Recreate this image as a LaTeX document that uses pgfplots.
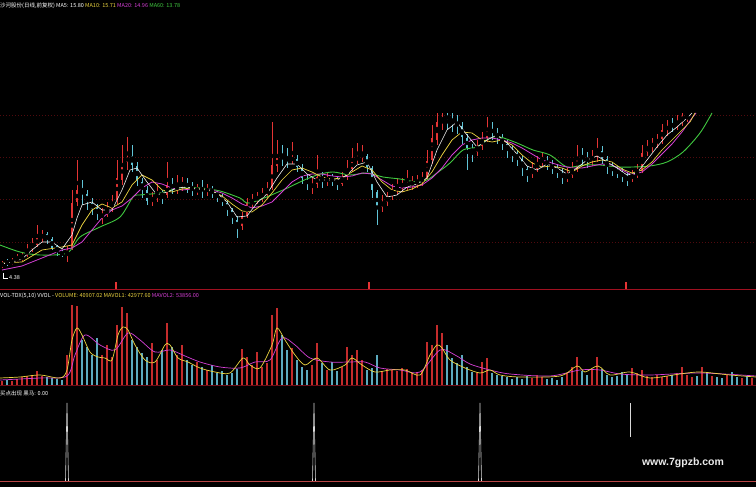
\documentclass[border=0pt]{standalone}
\usepackage{pgfplots}
\pgfplotsset{compat=1.18}
\usepackage{pgfplotstable}
\usepackage{fontspec}
\setmainfont{Liberation Sans}
\newfontfamily\cjk{Noto Sans CJK SC}

\definecolor{upc}{RGB}{228,52,52}
\definecolor{dnc}{RGB}{96,196,214}
\definecolor{vup}{RGB}{196,44,44}
\definecolor{vdn}{RGB}{92,170,190}
\definecolor{ma5}{RGB}{240,240,240}
\definecolor{ma10}{RGB}{236,212,64}
\definecolor{ma20}{RGB}{214,64,214}
\definecolor{ma60}{RGB}{64,200,64}
\definecolor{sep}{RGB}{160,16,32}
\definecolor{gridc}{RGB}{80,10,14}

\newcommand\hdr{\cjk\fontsize{5.5}{6}\selectfont}

% rising days: x = pixel position, o/h/l/c = height above panel floor, v = volume height
\pgfplotstableread{
x o h l c v
2 24 29 22 26 4
12 26 32 25 29 4
17 30 36 28 31 6
22 30 38 29 34 8
27 35 46 33 40 9
32 41 52 38 46 10
37 45 65 43 52 14
42 53 60 48 54 9
67 35 44 28 40 30
72 42 100 40 87 80
77 88 130 84 100 79
102 74 82 66 75 30
107 76 88 73 80 40
112 81 95 78 88 28
117 90 130 86 112 60
122 110 145 105 127 78
127 128 153 120 133 72
152 88 98 84 92 42
157 92 106 88 96 25
167 95 128 92 105 62
177 100 115 96 104 30
182 105 113 99 106 40
197 99 106 95 100 23
207 100 106 94 100 15
242 64 78 60 73 36
247 74 92 72 87 28
252 86 96 82 89 20
257 90 98 86 93 33
262 94 102 88 95 18
267 96 108 92 100 22
272 102 168 100 125 70
277 124 150 118 132 77
292 130 148 126 132 37
312 104 112 96 105 20
317 106 135 102 113 42
327 109 118 104 111 15
342 106 118 104 112 18
347 113 130 110 122 38
352 121 142 118 129 30
357 130 147 126 133 35
362 134 145 128 135 25
382 83 95 78 88 14
387 88 98 84 93 16
392 94 106 90 99 15
397 100 112 96 103 14
402 104 112 98 105 17
407 105 120 100 106 16
412 106 114 100 107 12
417 107 115 102 108 13
422 109 118 104 111 15
427 112 140 110 129 43
432 130 165 126 152 40
437 150 177 145 168 60
442 169 177 160 173 52
477 138 150 134 143 12
482 144 158 140 151 23
487 152 173 148 160 27
532 116 128 112 120 7
537 121 134 118 127 10
542 128 138 124 130 8
567 112 122 108 114 12
572 115 128 112 120 18
577 121 145 118 132 28
592 131 140 124 132 15
597 133 152 128 140 28
632 112 120 108 114 17
637 115 126 112 118 12
642 119 145 117 137 15
647 138 150 134 143 9
652 144 152 138 146 8
657 147 156 142 150 10
662 151 166 146 160 8
667 161 170 154 163 9
677 165 175 160 168 12
682 169 177 164 174 18
687 174 177 168 177 10
}\upbars

% falling days
\pgfplotstableread{
x o h l c v
7 28 31 24 27 5
47 56 58 46 50 8
52 51 53 40 42 7
57 44 45 34 38 6
62 37 40 33 36 5
82 102 110 85 98 45
87 96 100 80 88 38
92 87 92 75 81 30
97 82 86 70 76 47
132 134 145 118 125 45
137 124 128 104 110 38
142 108 112 92 101 32
147 100 104 85 89 28
162 97 100 86 94 35
172 106 112 96 101 38
187 107 112 97 103 25
192 104 108 94 100 20
202 101 110 92 100 18
212 101 104 92 98 20
217 97 100 88 94 12
222 93 96 84 88 14
227 87 90 74 80 10
232 80 82 66 72 12
237 70 74 52 62 16
282 133 145 124 132 50
287 131 142 122 130 35
297 131 135 118 123 25
302 122 126 106 112 18
307 110 116 100 106 15
322 114 118 102 110 22
332 112 116 104 111 23
337 110 114 100 107 14
367 134 136 118 123 15
372 122 124 92 100 17
377 98 100 65 82 30
447 174 177 160 171 40
452 170 177 158 169 27
457 168 175 156 165 22
462 164 168 146 153 30
467 152 156 120 142 18
472 141 146 128 138 13
492 160 168 150 158 12
497 157 162 146 153 10
502 152 156 140 147 9
507 146 150 132 140 8
512 139 144 128 137 6
517 136 140 124 132 8
522 131 134 114 122 6
527 121 124 108 115 9
547 129 134 120 126 6
552 125 130 116 122 7
557 121 126 112 118 5
562 117 122 106 113 8
582 133 142 124 132 14
587 131 138 122 130 10
602 139 144 126 132 16
607 131 134 116 123 10
612 122 128 114 120 8
617 119 124 112 118 9
622 117 122 108 114 13
627 113 118 104 111 10
672 165 172 158 164 10
}\dnbars

\pgfplotsset{
  panel/.style={scale only axis, width=756pt, xmin=0, xmax=756, anchor=south west,
    axis line style={draw=none}, tick style={draw=none}, xtick=\empty,
    ytick=\empty, yticklabels={}},
  stick/.style 2 args={only marks, mark=none, forget plot,
    error bars/.cd, y dir=both, y explicit, error mark=none,
    error bar style={draw=#1, line width=#2}},
  table/wick/.style={x=x, y expr={(\thisrow{h}+\thisrow{l})/2}, y error expr={(\thisrow{h}-\thisrow{l})/2}},
  table/body/.style={x=x, y expr={(\thisrow{o}+\thisrow{c})/2}, y error expr={max(abs(\thisrow{c}-\thisrow{o})/2,0.6)}},
}

\begin{document}
\begin{tikzpicture}
\path[use as bounding box] (0,0) rectangle (756pt,487pt);
\clip (0,0) rectangle (756pt,487pt);
\fill[black] (0,0) rectangle (756pt,487pt);

% ---------- price panel ----------
\begin{axis}[panel, at={(0pt,197pt)}, height=290pt, ymin=0, ymax=290,
  ytick={48,91,133,175}, ymajorgrids,
  grid style={gridc, line width=0.6pt, dash pattern=on 1pt off 2pt}]
\addplot[stick={upc}{0.7pt}] table[wick] {\upbars};
\addplot[stick={dnc}{0.7pt}] table[wick] {\dnbars};
\addplot[stick={upc}{2.4pt}] table[body] {\upbars};
\addplot[stick={dnc}{2.4pt}] table[body] {\dnbars};
% MA60
\addplot[ma60, line width=0.9pt, smooth] coordinates {
(0,45)(20,38)(40,35)(67,37)(80,53)(100,63)(120,73)(133,93)(140,95)(160,97)(180,102)
(200,102)(220,99)(240,92)(250,87)(283,100)(300,108)(317,115)(333,118)(350,115)
(367,117)(383,113)(400,111)(417,108)(427,110)(437,117)(450,127)(463,140)(477,143)
(490,152)(500,153)(517,147)(533,140)(550,135)(567,123)(583,125)(600,125)(617,123)
(633,123)(650,124)(667,128)(683,138)(700,157)(712,177)};
% MA20
\addplot[ma20, line width=0.8pt] coordinates {
(2,20)(22,24)(42,32)(62,40)(72,42)(82,48)(92,60)(102,72)(112,80)(122,84)(132,92)
(142,102)(152,108)(162,106)(172,102)(182,100)(192,101)(202,101)(212,100)(222,97)
(232,92)(242,86)(252,82)(262,84)(272,88)(282,98)(292,108)(302,114)(312,116)(322,116)
(332,114)(342,113)(352,114)(362,117)(372,116)(382,110)(392,104)(402,102)(412,103)
(422,105)(432,112)(442,122)(452,135)(462,145)(472,150)(482,152)(492,152)(502,150)
(512,147)(522,142)(532,136)(542,130)(552,127)(562,124)(572,122)(582,122)(592,124)
(602,126)(612,125)(622,120)(632,115)(642,118)(652,126)(662,136)(672,146)(682,158)
(692,172)(696,177)};
% MA10
\addplot[ma10, line width=0.7pt] coordinates {
(2,27)(22,28)(42,40)(62,43)(72,45)(82,65)(92,80)(102,86)(112,82)(122,88)(132,105)
(142,115)(152,110)(162,100)(172,98)(182,101)(192,102)(202,101)(212,99)(222,94)
(232,86)(242,79)(252,78)(262,85)(272,97)(282,110)(292,120)(302,122)(312,118)
(322,113)(332,111)(342,112)(352,118)(362,124)(372,120)(382,108)(392,100)(402,98)
(412,101)(422,106)(432,118)(442,135)(452,150)(462,158)(472,157)(482,150)(492,148)
(502,150)(512,145)(522,135)(532,127)(542,123)(552,124)(562,122)(572,118)(582,124)
(592,128)(602,130)(612,128)(622,121)(632,117)(642,120)(652,128)(662,140)(672,150)
(682,160)(690,168)(695,177)};
% MA5
\addplot[ma5, line width=0.6pt] coordinates {
(2,26)(12,28)(22,31)(32,40)(42,48)(52,48)(62,41)(72,55)(77,72)(82,85)(92,88)
(102,80)(112,80)(122,100)(130,120)(137,122)(147,108)(157,95)(167,98)(177,102)
(187,103)(197,101)(207,100)(217,97)(227,88)(237,73)(247,74)(257,87)(267,96)
(277,112)(287,126)(297,126)(307,116)(317,110)(327,110)(337,110)(347,115)(357,125)
(367,128)(377,108)(387,93)(397,95)(407,103)(417,106)(427,112)(437,140)(447,160)
(457,168)(467,155)(477,143)(487,150)(497,155)(507,147)(517,136)(527,124)(537,120)
(547,126)(557,122)(567,116)(577,122)(587,130)(597,134)(607,128)(617,122)(627,115)
(637,117)(647,130)(657,143)(667,155)(677,163)(687,172)(692,177)};
% buy marks at panel floor
\addplot[upc, ycomb, line width=1.6pt] coordinates {(116,8)(369,8)(626,8)};
\draw[white, line width=0.5pt] (axis cs:3,17) -- (axis cs:3,12) -- (axis cs:8,12);
\node[anchor=west, inner sep=0pt, text=white] at (axis cs:9,12) {\hdr 4.38};
\end{axis}

% ---------- volume panel ----------
\begin{axis}[panel, at={(0pt,102pt)}, height=93pt, ymin=0, ymax=93]
\addplot[ycomb, vup, line width=2pt] table[x=x, y=v] {\upbars};
\addplot[ycomb, vdn, line width=2pt] table[x=x, y=v] {\dnbars};
\addplot[ycomb, vup, line width=2pt] coordinates {(692,8)(702,18)(712,9)(727,10)(742,7)(752,7)};
\addplot[ycomb, vdn, line width=2pt] coordinates {(697,9)(707,12)(717,8)(722,7)(732,13)(737,8)(747,9)};
% MAVOL2
\addplot[ma20, line width=0.7pt, smooth] coordinates {
(0,5)(40,7)(67,9)(75,30)(85,50)(100,40)(115,35)(128,52)(140,45)(155,33)(170,35)
(185,29)(200,23)(220,18)(240,17)(255,23)(270,25)(282,47)(295,40)(310,27)(330,23)
(350,23)(365,23)(380,17)(400,15)(420,13)(440,35)(455,30)(470,21)(490,15)(510,11)
(550,9)(580,15)(600,15)(620,11)(650,10)(700,12)(756,9)};
% MAVOL1
\addplot[ma10, line width=0.7pt, smooth] coordinates {
(0,7)(20,8)(40,10)(60,7)(67,15)(72,45)(77,57)(82,50)(90,33)(98,28)(105,27)(112,25)
(118,50)(123,58)(128,55)(135,40)(145,25)(155,23)(165,40)(170,40)(178,27)(188,23)
(200,17)(215,13)(230,12)(243,27)(250,20)(260,17)(272,40)(277,57)(285,45)(295,30)
(305,20)(317,27)(330,15)(345,20)(352,27)(362,20)(375,13)(390,15)(405,15)(420,10)
(430,30)(437,40)(442,37)(450,25)(465,17)(480,12)(490,15)(500,10)(520,8)(560,9)
(577,19)(585,13)(598,19)(610,10)(630,13)(650,7)(680,11)(700,13)(730,10)(756,8)};
\end{axis}

% ---------- signal panel ----------
\begin{axis}[panel, at={(0pt,6pt)}, height=86pt, ymin=0, ymax=86]
\addplot[white!85!black, line width=0.6pt] coordinates {(65.5,0)(67,78)(68.5,0)};
\addplot[white!85!black, line width=0.6pt] coordinates {(312.5,0)(314,78)(315.5,0)};
\addplot[white!85!black, line width=0.6pt] coordinates {(478.5,0)(480,78)(481.5,0)};
\addplot[white!85!black, line width=0.8pt] coordinates {(630,44)(630,78)};
\end{axis}

% separators
\draw[sep, line width=1pt] (0,197pt) -- (756pt,197pt);
\draw[sep!70!black, line width=0.8pt] (0,101.5pt) -- (756pt,101.5pt);
\draw[red!45!gray, line width=1.6pt] (0,5.5pt) -- (756pt,5.5pt);

% headers
\node[anchor=west, inner sep=0pt, text=white] at (0pt,481pt)
  {\hdr 沙河股份(日线,前复权) MA5: 15.80 \textcolor{ma10}{MA10: 15.71} \textcolor{ma20}{MA20: 14.96} \textcolor{ma60}{MA60: 13.78}};
\node[anchor=west, inner sep=0pt, text=white] at (0pt,191pt)
  {\hdr VOL-TDX(5,10) VVOL - \textcolor{ma10}{VOLUME: 40907.02} \textcolor{ma10}{MAVOL1: 42977.60} \textcolor{ma20}{MAVOL2: 53856.00}};
\node[anchor=west, inner sep=0pt, text=white] at (0pt,94pt)
  {\hdr 买点出现 黑马: 0.00};
\node[text=white!92!black, inner sep=0pt] at (683pt,24pt)
  {\fontsize{10.5}{12}\selectfont\bfseries www.7gpzb.com};
\end{tikzpicture}
\end{document}
